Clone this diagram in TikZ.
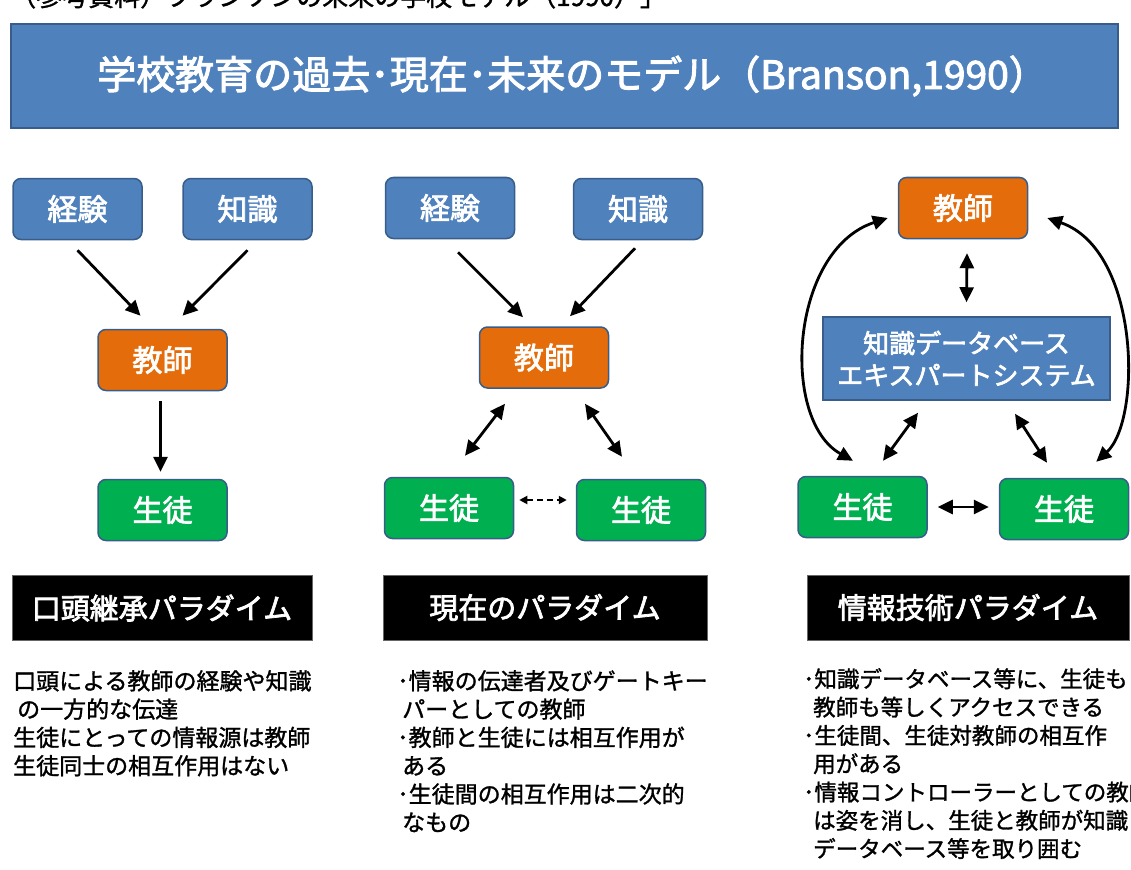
\documentclass[tikz,border=0pt]{standalone}
\usepackage{fontspec}
\setmainfont{Noto Sans CJK JP}[FakeBold=1.3]
\newfontfamily\labelfont{Noto Sans CJK JP}[FakeBold=2.5]
\usetikzlibrary{arrows.meta}

\definecolor{boxblue}{HTML}{4F81BD}
\definecolor{boxline}{HTML}{385D8A}
\definecolor{teacherorange}{HTML}{E46C0A}
\definecolor{studentgreen}{HTML}{00B050}

\begin{document}
\begin{tikzpicture}[x=1pt, y=-1pt,
    box/.style={draw=boxline, line width=1.5pt, rounded corners=8pt, text=white,
      minimum width=129pt, minimum height=61pt, inner sep=0pt, font=\labelfont\fontsize{30}{34}\selectfont},
    srcbox/.style={box, fill=boxblue},
    teacher/.style={box, fill=teacherorange},
    student/.style={box, fill=studentgreen},
    paradigm/.style={fill=black, draw=black!60, text=white, minimum height=65pt,
      inner sep=0pt, font=\labelfont\fontsize{29}{32}\selectfont},
    note/.style={anchor=north west, align=left, inner sep=0pt, font=\fontsize{23}{28.3}\selectfont},
    arr/.style={line width=2.8pt, -{Triangle[length=15pt,width=14pt]}},
    darr/.style={line width=2.8pt, {Triangle[length=15pt,width=14pt]}-{Triangle[length=15pt,width=14pt]}}]
    \useasboundingbox (0,0) rectangle (1131,869);

    % cut-off line above the title
    \node[anchor=base west, inner sep=0pt, font=\fontsize{26}{30}\selectfont] (cap) at (10,6)
        {（参考資料）ブランソンの未来の学校モデル（1990）」};

    % title
    \node[fill=boxblue, draw=boxline, line width=1.5pt, minimum width=1107pt, minimum height=104pt,
        text=white, font=\labelfont\fontsize{39}{42}\selectfont] (title) at (564.5,76)
        {\hspace{16pt}学校教育の過去･現在･未来のモデル（Branson,1990）};

    % oral paradigm
    \node[srcbox] (k1) at (77.5,209) {経験};
    \node[srcbox] (c1) at (247.5,209) {知識};
    \node[teacher] (t1) at (162.5,360) {教師};
    \node[student] (s1) at (162.5,510) {生徒};
    \draw[arr] ([shift={(0,10)}]k1.south) -- ([shift={(-22,-13)}]t1.north);
    \draw[arr] ([shift={(0,10)}]c1.south) -- ([shift={(20,-13)}]t1.north);
    \draw[arr] ([shift={(-2,10)}]t1.south) -- ([shift={(-2,-7)}]s1.north);

    % present paradigm
    \node[srcbox] (k2) at (450,208) {経験};
    \node[srcbox] (c2) at (638,209) {知識};
    \node[teacher] (t2) at (544,357.5) {教師};
    \node[student] (s2a) at (449,508) {生徒};
    \node[student] (s2b) at (641,510) {生徒};
    \draw[arr] ([shift={(8,13)}]k2.south) -- ([shift={(-21,-9)}]t2.north);
    \draw[arr] ([shift={(-3,8)}]c2.south) -- ([shift={(26,-10)}]t2.north);
    \draw[darr] ([shift={(-39,15)}]t2.south) -- ([shift={(16,-21)}]s2a.north);
    \draw[darr] ([shift={(41,15)}]t2.south) -- ([shift={(-19,-22)}]s2b.north);
    \draw[line width=1.8pt, dash pattern=on 6pt off 4pt, {Triangle[length=8pt,width=8pt]}-{Triangle[length=8pt,width=8pt]}]
        ([shift={(5,-8)}]s2a.east) -- ([shift={(-9,-10)}]s2b.west); % weak link

    % information technology paradigm
    \node[teacher] (t3) at (963,208) {教師};
    \node[draw=boxline, line width=1.5pt, fill=boxblue, text=white, minimum width=287pt, minimum height=83pt,
        align=center, inner sep=0pt, font=\labelfont\fontsize{26}{32}\selectfont] (db) at (966.5,358.5)
        {知識データベース\\エキスパートシステム};
    \node[student] (s3a) at (862.5,507) {生徒};
    \node[student] (s3b) at (1064,509) {生徒};
    \draw[darr] ([shift={(4,14)}]t3.south) -- ([shift={(0,-14)}]db.north);
    \draw[darr] ([shift={(-48.5,12)}]db.south) -- ([shift={(20.5,-15)}]s3a.north);
    \draw[darr] ([shift={(48.5,13)}]db.south) -- ([shift={(-17,-15)}]s3b.north);
    \draw[darr] ([shift={(10,0)}]s3a.east) -- ([shift={(-10,-2)}]s3b.west);
    \draw[darr] ([shift={(-10,10)}]t3.west) .. controls (790,250) and (780,420) .. ([shift={(-9.5,-15)}]s3a.north); % left arc
    \draw[darr] ([shift={(19,10)}]t3.east) .. controls (1140,250) and (1142,420) .. ([shift={(-33,-16)}]s3b.north east); % right arc

    % paradigm names
    \node[paradigm, minimum width=300pt] (h1) at (162,608) {口頭継承パラダイム};
    \node[paradigm, minimum width=324pt] (h2) at (545,607.5) {現在のパラダイム};
    \node[paradigm, minimum width=322pt] (h3) at (968,607.5) {情報技術パラダイム};

    % notes
    \node[note] (n1) at (13,670) {口頭による教師の経験や知識\\
        \hspace{4pt}の一方的な伝達\\
        生徒にとっての情報源は教師\\
        生徒同士の相互作用はない};
    \node[note] (n2) at (397,670) {･情報の伝達者及びゲートキー\\
        \hspace{5pt}パーとしての教師\\
        ･教師と生徒には相互作用が\\
        \hspace{5pt}ある\\
        ･生徒間の相互作用は二次的\\
        \hspace{5pt}なもの};
    \node[note, font=\fontsize{22.5}{28.3}\selectfont] (n3) at (803,668) {･知識データベース等に、生徒も\\
        \hspace{10pt}教師も等しくアクセスできる\\
        ･生徒間、生徒対教師の相互作\\
        \hspace{10pt}用がある\\
        ･情報コントローラーとしての教師\\
        \hspace{10pt}は姿を消し、生徒と教師が知識\\
        \hspace{10pt}データベース等を取り囲む};
\end{tikzpicture}
\end{document}
